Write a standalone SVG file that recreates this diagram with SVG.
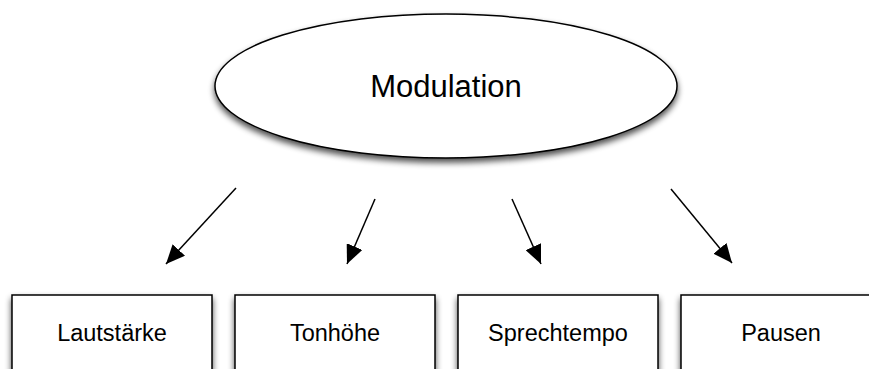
<svg xmlns="http://www.w3.org/2000/svg" width="869" height="369" viewBox="0 0 869 369">
<defs>
<filter id="sh" x="-20%" y="-20%" width="140%" height="160%">
<feGaussianBlur in="SourceAlpha" stdDeviation="3"/>
<feOffset dx="0" dy="4" result="b"/>
<feComponentTransfer><feFuncA type="linear" slope="0.7"/></feComponentTransfer>
<feMerge><feMergeNode/><feMergeNode in="SourceGraphic"/></feMerge>
</filter>
<marker id="ah" markerUnits="userSpaceOnUse" markerWidth="19" markerHeight="17" refX="19" refY="8.5" orient="auto">
<path d="M0,0 L19,8.5 L0,17 z" fill="#000"/>
</marker>
</defs>
<style>
.shape{fill:#fff;stroke:#000;stroke-width:1.5;filter:url(#sh)}
.lbl{font-family:"Liberation Sans",Arial,sans-serif;fill:#000;text-anchor:middle}
.big{font-size:31px}
.small{font-size:23.5px}
.conn line{stroke:#000;stroke-width:1.5;marker-end:url(#ah)}
</style>
<g id="modulation">
<ellipse class="shape" cx="446" cy="86" rx="231" ry="72"/>
<text class="lbl big" x="446" y="97">Modulation</text>
</g>
<g id="lautstaerke">
<rect class="shape" x="12" y="295" width="200" height="110"/>
<text class="lbl small" x="112" y="341">Lautstärke</text>
</g>
<g id="tonhoehe">
<rect class="shape" x="235" y="295" width="200" height="110"/>
<text class="lbl small" x="335" y="341">Tonhöhe</text>
</g>
<g id="sprechtempo">
<rect class="shape" x="458" y="295" width="200" height="110"/>
<text class="lbl small" x="558" y="341">Sprechtempo</text>
</g>
<g id="pausen">
<rect class="shape" x="681" y="295" width="200" height="110"/>
<text class="lbl small" x="781" y="341">Pausen</text>
</g>
<g id="connectors" class="conn">
<line x1="236" y1="188" x2="166" y2="264"/>
<line x1="375" y1="199" x2="347" y2="264"/>
<line x1="512" y1="199" x2="541" y2="264"/>
<line x1="671" y1="189" x2="732" y2="263"/>
</g>
</svg>
